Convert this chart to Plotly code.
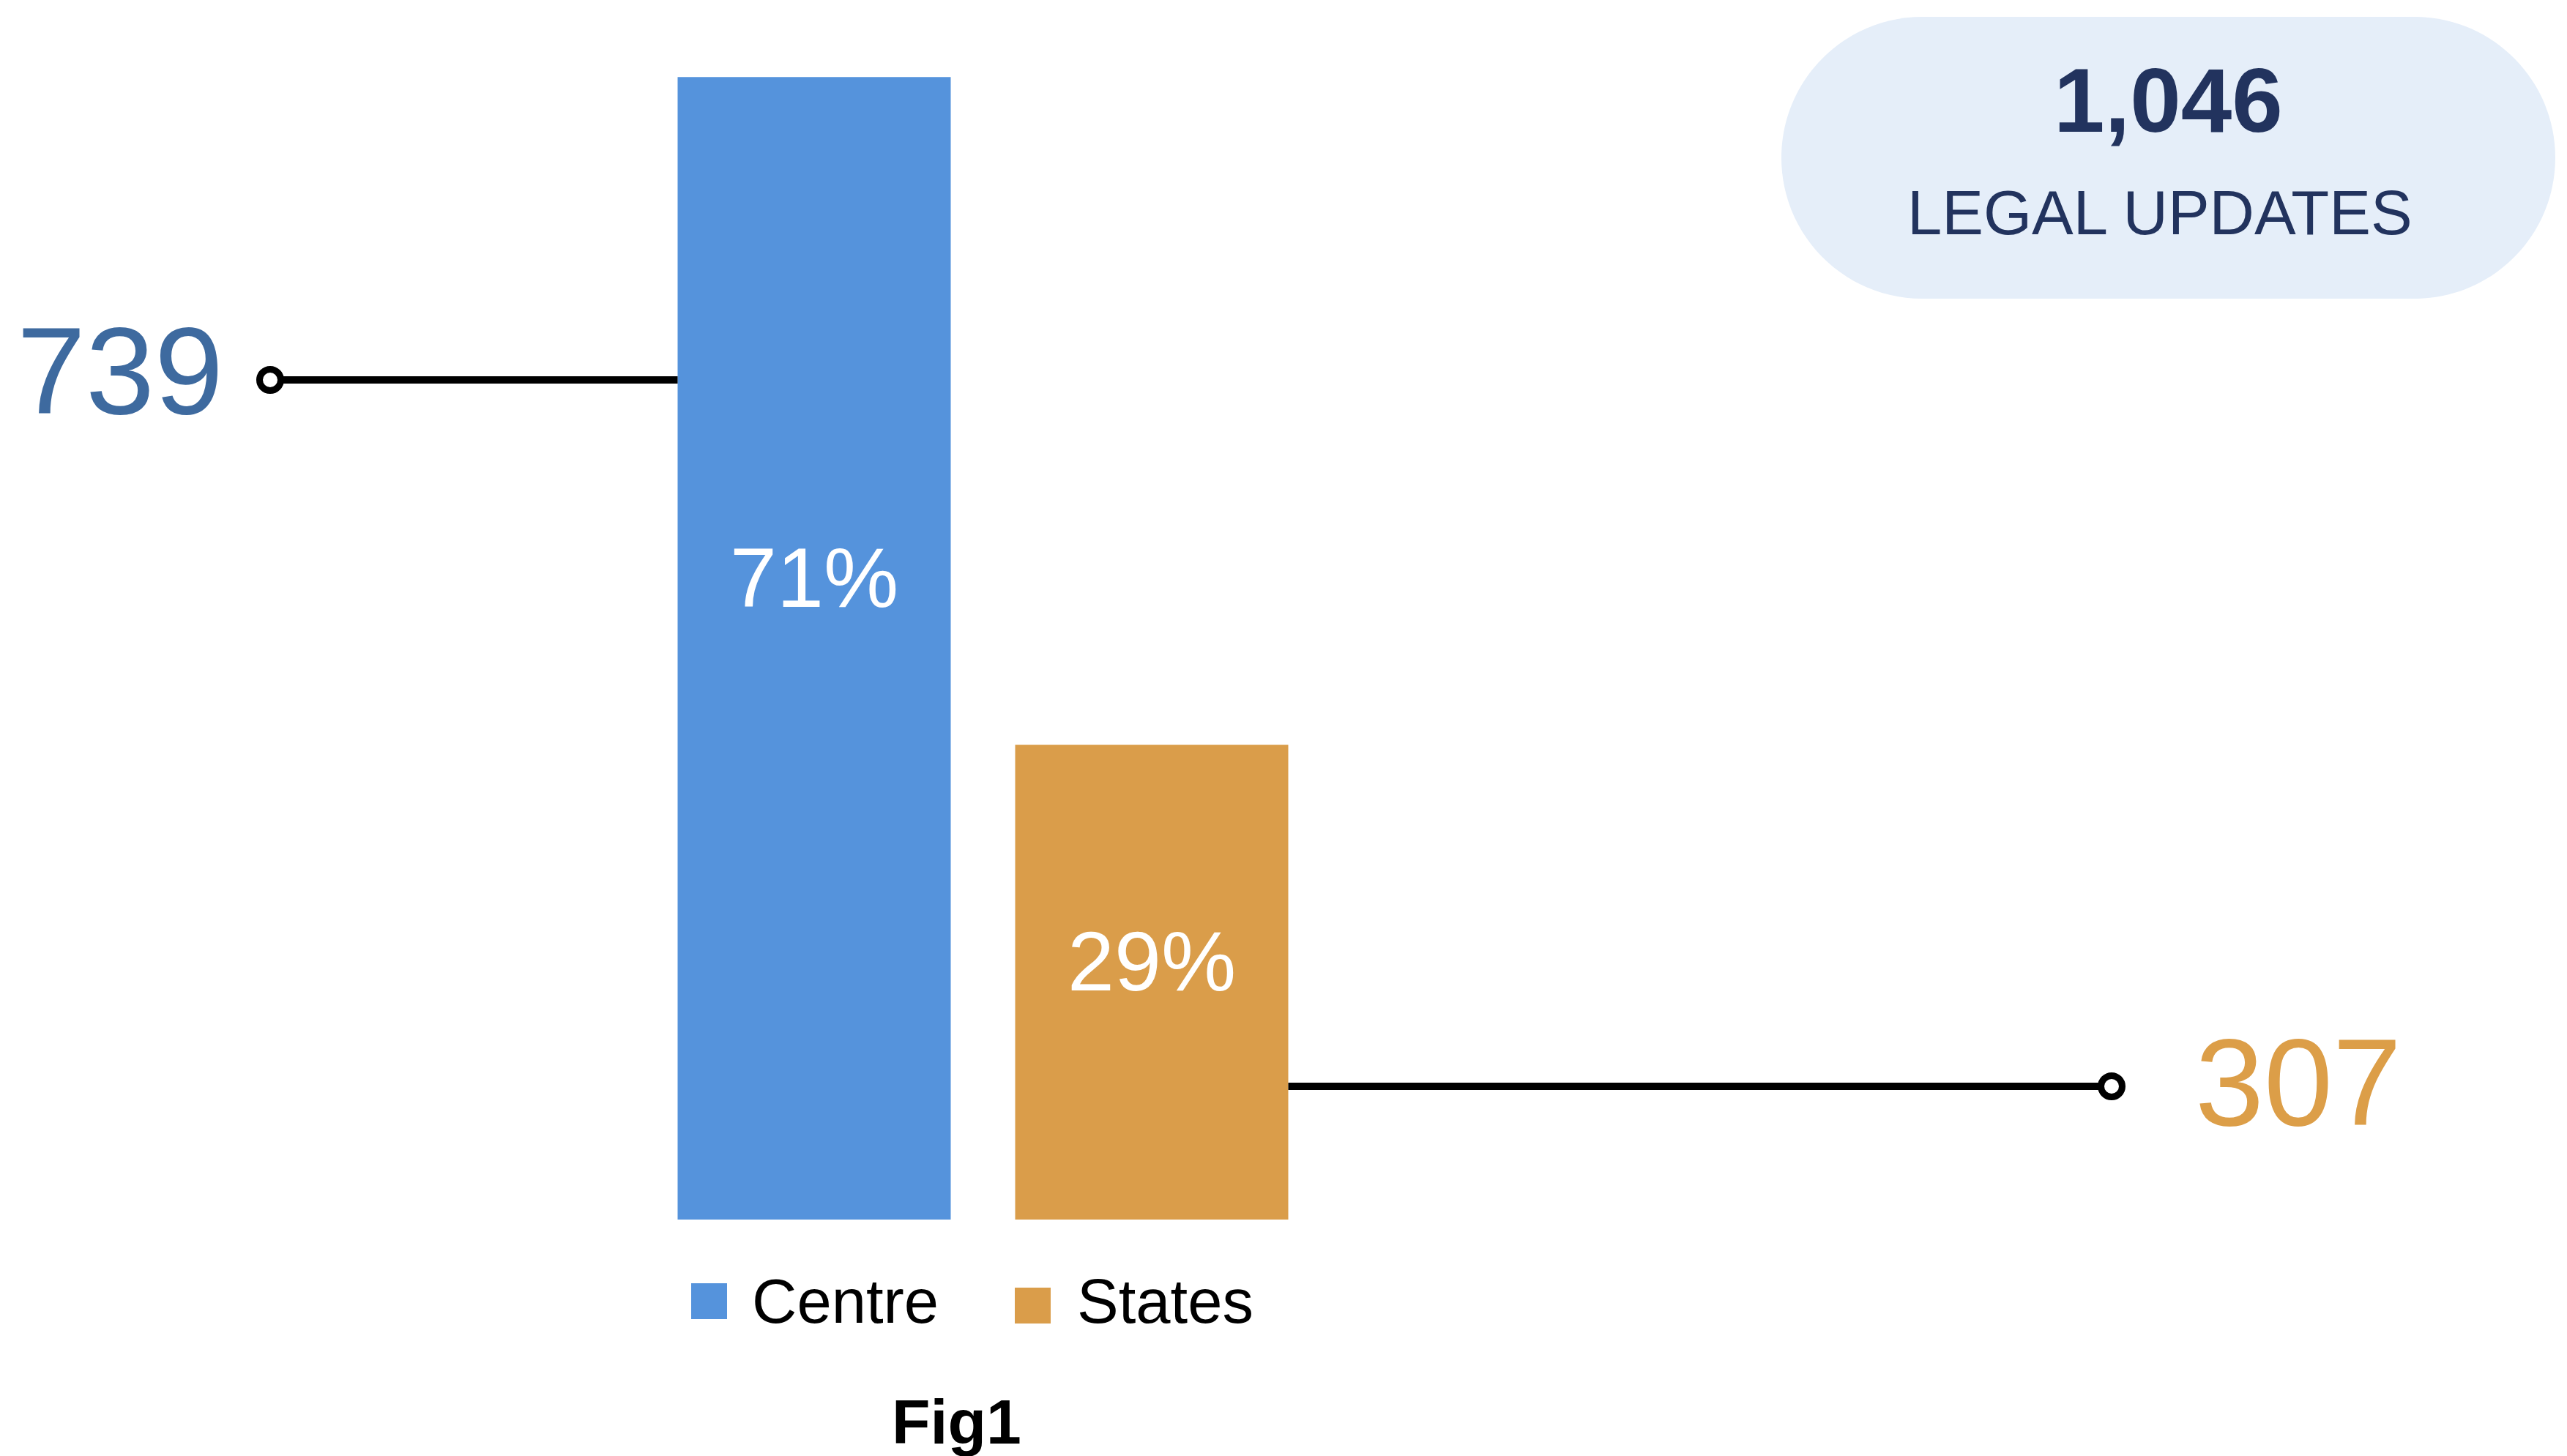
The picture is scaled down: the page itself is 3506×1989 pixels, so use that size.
import plotly.graph_objects as go

# ---------------- data ----------------
categories = ["Centre", "States"]
values = [739, 307]
bar_colors = ["#5593dc", "#da9d4a"]
value_label_colors = ["#3e6a9f", "#dc9e48"]
summary_label = "LEGAL UPDATES"
caption = "Fig1"

total = sum(values)
percents = [round(v / total * 100) for v in values]

# ---------------- layout geometry (page pixels) ----------------
W, H = 3506, 1989
OFF = 8  # default page body margin, compensated
FONT = "Liberation Sans, Arial, Helvetica, sans-serif"
NAVY = "#22335e"

BAR_CENTER_PX = [1112 - OFF, 1573 - OFF]
BAR_WIDTH_PX = 373
BASE_PX = 1666 - OFF
Y_UNIT = 2.112  # px per value unit
PCT_LABEL_FRAC = [0.562, 0.544]  # vertical placement of % labels within bars

x_unit = BAR_CENTER_PX[1] - BAR_CENTER_PX[0]
x_range = [-BAR_CENTER_PX[0] / x_unit, (W - BAR_CENTER_PX[0]) / x_unit]
y_range = [-(H - BASE_PX) / Y_UNIT, BASE_PX / Y_UNIT]
bar_w = BAR_WIDTH_PX / x_unit


def to_x(p):
    return (p - OFF - BAR_CENTER_PX[0]) / x_unit


def to_y(p):
    return (BASE_PX - (p - OFF)) / Y_UNIT


def px(x):
    return (x - OFF) / W


def py(y):
    return 1 - (y - OFF) / H


fig = go.Figure()

# bars
for i, (cat, val, col) in enumerate(zip(categories, values, bar_colors)):
    fig.add_trace(go.Bar(
        x=[i], y=[val], width=[bar_w], name=cat,
        marker=dict(color=col, line=dict(width=0)),
        showlegend=False, hoverinfo="skip",
    ))

# leader lines with open circle ends
leader_y_px = [519, 1484]
circle_x_px = [369, 2884]
bar_edges = [0 - bar_w / 2, 1 + bar_w / 2]
for i in range(2):
    ly = to_y(leader_y_px[i])
    cx = to_x(circle_x_px[i])
    fig.add_trace(go.Scatter(
        x=[cx, bar_edges[i]], y=[ly, ly], mode="lines",
        line=dict(color="black", width=10), showlegend=False, hoverinfo="skip",
    ))
    fig.add_trace(go.Scatter(
        x=[cx], y=[ly], mode="markers",
        marker=dict(symbol="circle", size=29, color="white",
                    line=dict(color="black", width=9)),
        showlegend=False, hoverinfo="skip",
    ))

annotations = []

# percentage labels inside bars
for i, (val, pct) in enumerate(zip(values, percents)):
    annotations.append(dict(
        x=i, y=val * PCT_LABEL_FRAC[i], xref="x", yref="y", text=f"{pct}%",
        showarrow=False, font=dict(family=FONT, size=115, color="white"),
        xanchor="center", yanchor="middle",
    ))

# big value labels
value_pos = [(164, 506), (3139, 1478)]
for (vx, vy), val, col in zip(value_pos, values, value_label_colors):
    annotations.append(dict(
        x=px(vx), y=py(vy), xref="paper", yref="paper", text=f"{val}",
        showarrow=False, font=dict(family=FONT, size=169, color=col),
        xanchor="center", yanchor="middle",
    ))

# summary pill
x0, x1, y0, y1 = 2433, 3490, 23, 408
r = (y1 - y0) / 2
k = 0.5523 * r
cy = (y0 + y1) / 2
pts = [
    ("M", [(x0 + r, y0)]),
    ("L", [(x1 - r, y0)]),
    ("C", [(x1 - r + k, y0), (x1, cy - k), (x1, cy)]),
    ("C", [(x1, cy + k), (x1 - r + k, y1), (x1 - r, y1)]),
    ("L", [(x0 + r, y1)]),
    ("C", [(x0 + r - k, y1), (x0, cy + k), (x0, cy)]),
    ("C", [(x0, cy - k), (x0 + r - k, y0), (x0 + r, y0)]),
]
path = ""
for cmd, ps in pts:
    path += cmd + " ".join(f"{px(a):.6f},{py(b):.6f}" for a, b in ps)
path += "Z"

shapes = [dict(type="path", path=path, xref="paper", yref="paper",
               fillcolor="#e5eef9", line=dict(width=0), layer="below")]

annotations.append(dict(
    x=px(2961), y=py(137), xref="paper", yref="paper",
    text=f"<b>{total:,}</b>", showarrow=False,
    font=dict(family=FONT, size=125, color=NAVY),
    xanchor="center", yanchor="middle",
))
annotations.append(dict(
    x=px(2950), y=py(291), xref="paper", yref="paper",
    text=summary_label, showarrow=False,
    font=dict(family=FONT, size=85, color=NAVY),
    xanchor="center", yanchor="middle",
))

# custom legend
legend_sq = [(944, 1753), (1386, 1759)]
legend_txt = [(1025, 1777), (1469, 1777)]
SQ = 49
for (sx, sy), (tx, ty), cat, col in zip(legend_sq, legend_txt, categories, bar_colors):
    shapes.append(dict(type="rect", xref="paper", yref="paper",
                       x0=px(sx), x1=px(sx + SQ), y0=py(sy + SQ), y1=py(sy),
                       fillcolor=col, line=dict(width=0)))
    annotations.append(dict(
        x=px(tx), y=py(ty), xref="paper", yref="paper", text=cat,
        showarrow=False, font=dict(family=FONT, size=85, color="black"),
        xanchor="left", yanchor="middle",
    ))

# caption
annotations.append(dict(
    x=px(1306), y=py(1942), xref="paper", yref="paper",
    text=f"<b>{caption}</b>", showarrow=False,
    font=dict(family=FONT, size=86, color="black"),
    xanchor="center", yanchor="middle",
))

fig.update_layout(
    width=W, height=H,
    margin=dict(l=0, r=0, t=0, b=0, pad=0),
    paper_bgcolor="white", plot_bgcolor="white",
    barmode="overlay",
    xaxis=dict(range=x_range, visible=False, fixedrange=True),
    yaxis=dict(range=y_range, visible=False, fixedrange=True),
    shapes=shapes, annotations=annotations,
    showlegend=False,
)

fig.write_html("out.html")
